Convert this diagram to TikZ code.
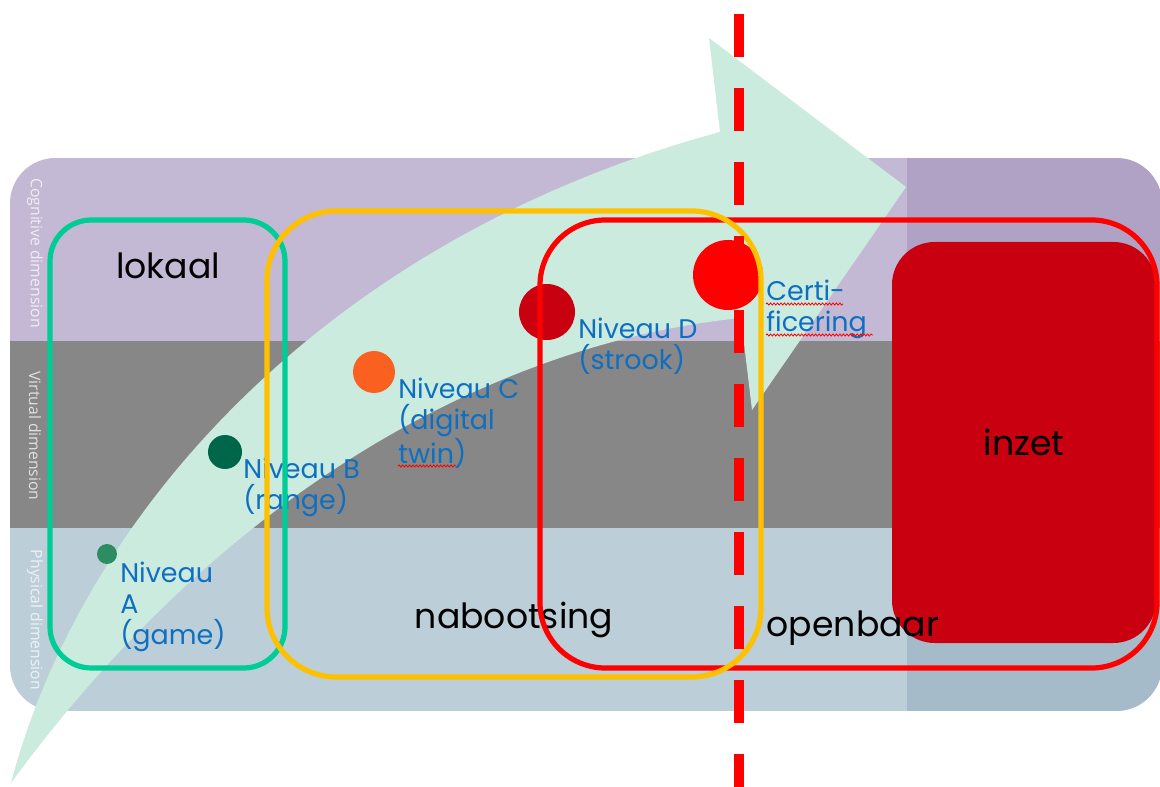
\documentclass[tikz,border=0pt]{standalone}
\usepackage{fontspec}
\setmainfont{Poppins}
\newfontfamily\dimfont{Open Sans}
\usepackage{tikz}
\usetikzlibrary{positioning,decorations.pathmorphing}
\definecolor{cogpurple}{HTML}{C4B9D4}
\definecolor{cogpurpledark}{HTML}{B0A2C4}
\definecolor{virtgray}{HTML}{878787}
\definecolor{virtgraydark}{HTML}{646464}
\definecolor{physblue}{HTML}{BCCED8}
\definecolor{physbluedark}{HTML}{A6BBCA}
\definecolor{arrowmint}{HTML}{CCEBDF}
\definecolor{lokaalgreen}{HTML}{00CC96}
\definecolor{nabootsyellow}{HTML}{FFC000}
\definecolor{inzetred}{HTML}{C8000F}
\definecolor{levelblue}{HTML}{0E6FC1}
\definecolor{dotA}{HTML}{2E8C62}
\definecolor{dotB}{HTML}{00664A}
\definecolor{dotC}{HTML}{FA6121}
\tikzset{
levelbox/.style={line width=3.9pt}, % outline of the groups
leveltext/.style={align=left, anchor=north west, inner sep=0pt, text=levelblue,
  font=\fontsize{20.2}{23.25}\selectfont},
areatext/.style={anchor=base, inner sep=0pt, font=\fontsize{26}{30}\selectfont},
dimtext/.style={rotate=-90, inner sep=0pt, text=white, text opacity=0.75,
  font=\dimfont\fontsize{11.8}{13}\selectfont},
leveldot/.style={circle, inner sep=0pt, minimum size=#1},
squiggle/.style={red, line width=0.6pt, decorate,
  decoration={snake, amplitude=0.8pt, segment length=2.6pt}},
}

\begin{document}
\begin{tikzpicture}[x=0.75pt,y=0.75pt,yscale=-1,xscale=1]
\useasboundingbox (0,0) rectangle (1160,787);
%Bands
\begin{scope}
\clip[rounded corners=34pt] (10,158) rectangle (1162,711);
\fill[cogpurple] (10,158) rectangle (907,341);
\fill[cogpurpledark] (907,158) rectangle (1162,341);
\fill[virtgray] (10,341) rectangle (907,528);
\fill[virtgraydark] (907,341) rectangle (1162,528);
\fill[physblue] (10,528) rectangle (907,711);
\fill[physbluedark] (907,528) rectangle (1162,711);
\end{scope}
\node[dimtext] (cogdim) at (35,253) {Cognitive dimension};
\node[dimtext] (virtdim) at (35,436) {Virtual dimension};
\node[dimtext] (physdim) at (35,620) {Physical dimension};
%Big arrow
\fill[arrowmint] (11,783) .. controls (80,520) and (320,240) .. (720,132) -- (709,38) -- (906,187) -- (752,410) -- (741,318) .. controls (520,340) and (240,470) .. (11,783) -- cycle;
%Inzet block
\fill[inzetred, rounded corners=32pt] (892,242) rectangle (1156,643);
\node[areatext] (inzet) at (1024,456) {inzet};
%Levels
\node[leveldot=15pt, fill=dotA] (dotA) at (107,554) {};
\node[leveldot=25.5pt, fill=dotB] (dotB) at (225,452) {};
\node[leveldot=31.5pt, fill=dotC] (dotC) at (374,372) {};
\node[leveldot=42pt, fill=inzetred] (dotD) at (547,312) {};
\node[leveldot=52.5pt, fill=red] (dotcert) at (728,275) {};
\node[leveltext] (levelA) at (120,562) {Niveau\\A\\(game)};
\node[leveltext] (levelB) at (243,458) {Niveau B\\(range)};
\node[leveltext] (levelC) at (398,378) {Niveau C\\(digital\\twin)};
\node[leveltext] (levelD) at (578,318) {Niveau D\\(strook)};
\node[leveltext] (cert) at (766,280) {Certi-\\ficering};
\draw[squiggle] (766,304) -- (843,304);
\draw[squiggle] (766,335) -- (873,335);
\draw[squiggle] (398,466) -- (456,466);
\node[areatext] (lokaal) at (168,279) {lokaal};
\node[areatext] (nabootsing) at (514,628) {nabootsing};
\node[areatext] (openbaar) at (853,636) {openbaar};
%Groups
\draw[levelbox, red, rounded corners=49pt] (540,220) rectangle (1157,668);
\draw[levelbox, lokaalgreen, rounded corners=31pt] (50,220) rectangle (285,668);
\draw[levelbox, nabootsyellow, rounded corners=52pt] (267,211) rectangle (761,677);
%Cut line
\coordinate (cuttop) at (739,14);
\coordinate (cutbottom) at (739,800);
\draw[red, line width=7.5pt, dash pattern=on 32.25pt off 23.25pt] (cuttop) -- (cutbottom);
\end{tikzpicture}
\end{document}
